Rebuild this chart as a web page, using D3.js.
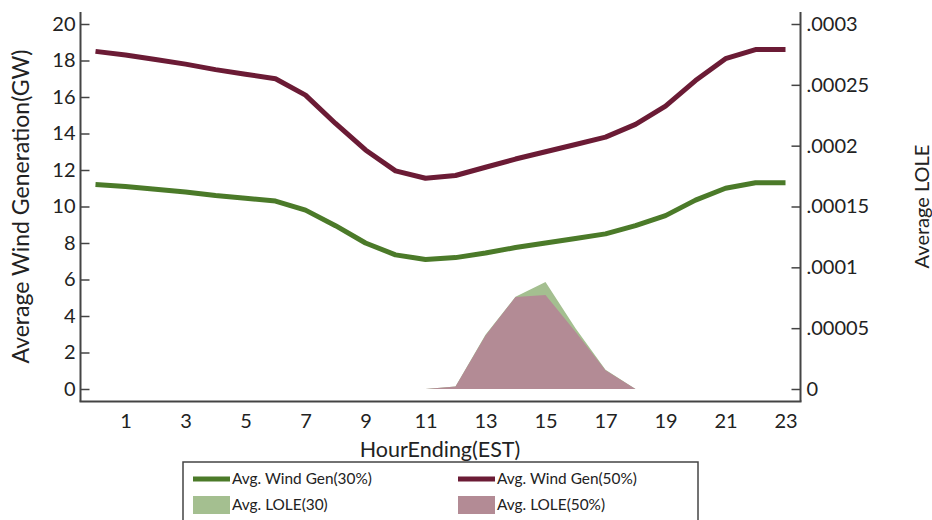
<!DOCTYPE html>
<html><head><meta charset="utf-8">
<script src="https://cdn.jsdelivr.net/npm/d3@7"></script>
<style>
body{margin:0;background:#fff;}
svg{display:block;font-family:Lato, "Open Sans", sans-serif;}
</style></head>
<body><svg id="c" width="932" height="520"></svg>
<script>
const hours = d3.range(0, 24);
const wind30 = [11.2,11.1,10.95,10.8,10.6,10.45,10.3,9.8,8.95,8.0,7.35,7.1,7.2,7.45,7.75,8.0,8.25,8.5,8.95,9.5,10.35,11.0,11.3,11.3];
const wind50 = [18.5,18.3,18.05,17.8,17.5,17.25,17.0,16.1,14.55,13.1,11.95,11.55,11.7,12.15,12.6,13.0,13.4,13.8,14.5,15.5,16.9,18.1,18.6,18.6];
const loleHours = [11,12,13,14,15,16,17,18];
const lole30 = [0,0.000002,0.0000445,0.0000758,0.000088,0.000050,0.0000158,0];
const lole50 = [0,0.000002,0.0000440,0.0000756,0.0000772,0.000047,0.0000155,0];
const xTicks = [1,3,5,7,9,11,13,15,17,19,21,23];
const yLeftTicks = [0,2,4,6,8,10,12,14,16,18,20];
const yRightTicks = [0,0.00005,0.0001,0.00015,0.0002,0.00025,0.0003];
const yRightLabels = ["0",".00005",".0001",".00015",".0002",".00025",".0003"];
const legendItems = [
  {label:"Avg. Wind Gen(30%)", type:"line", color:"#4b7a29"},
  {label:"Avg. Wind Gen(50%)", type:"line", color:"#6b1b35"},
  {label:"Avg. LOLE(30)", type:"area", color:"#a4bf90"},
  {label:"Avg. LOLE(50%)", type:"area", color:"#b38b95"}
];

const svg = d3.select("#c");
const X0 = 80.5, X1 = 800.5, Ytop = 24, Ybot = 389, axisY = 401.5, lineTop = 12;
const x = d3.scaleLinear().domain([-0.5, 23.5]).range([X0, X1]);
const yL = d3.scaleLinear().domain([0, 20]).range([Ybot, Ytop]);
const yR = d3.scaleLinear().domain([0, 0.0003]).range([Ybot, Ytop]);

// areas (right axis)
const area = d3.area().x(d => x(d[0])).y0(yR(0)).y1(d => yR(d[1]));
svg.append("path").datum(loleHours.map((h,i)=>[h,lole30[i]]))
  .attr("d", area).attr("fill", legendItems[2].color);
svg.append("path").datum(loleHours.map((h,i)=>[h,lole50[i]]))
  .attr("d", area).attr("fill", legendItems[3].color);

// lines (left axis)
const line = d3.line().x(d => x(d[0])).y(d => yL(d[1]));
[[wind30, legendItems[0].color],[wind50, legendItems[1].color]].forEach(([vals,col])=>{
  svg.append("path").datum(hours.map((h,i)=>[h,vals[i]]))
    .attr("d", line).attr("fill","none").attr("stroke", col)
    .attr("stroke-width", 5).attr("stroke-linejoin","round");
});

const axisColor = "#444";
const gL = svg.append("g").attr("transform", `translate(${X0},0)`)
  .call(d3.axisLeft(yL).tickValues(yLeftTicks).tickSizeInner(-9).tickSizeOuter(0).tickPadding(5));
const gR = svg.append("g").attr("transform", `translate(${X1},0)`)
  .call(d3.axisRight(yR).tickValues(yRightTicks).tickFormat((d,i)=>yRightLabels[i]).tickSizeInner(-9).tickSizeOuter(0).tickPadding(6));
const gB = svg.append("g").attr("transform", `translate(0,${axisY})`)
  .call(d3.axisBottom(x).tickValues(xTicks).tickSize(0).tickPadding(12).tickFormat(d3.format("d")));
[gL,gR,gB].forEach(g=>{
  g.select(".domain").remove();
  g.selectAll("line").attr("stroke", axisColor).attr("stroke-width",1.5);
  g.selectAll("text").attr("font-size", 20).attr("fill","#222").attr("font-family","Lato, sans-serif");
});
svg.append("line").attr("x1",X0).attr("x2",X0).attr("y1",lineTop).attr("y2",axisY).attr("stroke",axisColor).attr("stroke-width",2);
svg.append("line").attr("x1",X1).attr("x2",X1).attr("y1",lineTop).attr("y2",axisY).attr("stroke",axisColor).attr("stroke-width",2);
svg.append("line").attr("x1",X0-1).attr("x2",X1+1).attr("y1",axisY).attr("y2",axisY).attr("stroke",axisColor).attr("stroke-width",2);

// axis titles
svg.append("text").attr("transform",`translate(29,${(Ytop+Ybot)/2}) rotate(-90)`)
  .attr("text-anchor","middle").attr("font-size",23).attr("fill","#222").text("Average Wind Generation(GW)");
svg.append("text").attr("transform",`translate(929,${(Ytop+Ybot)/2}) rotate(-90)`)
  .attr("text-anchor","middle").attr("font-size",20).attr("fill","#222").text("Average LOLE");
svg.append("text").attr("x",440).attr("y",457).attr("text-anchor","middle")
  .attr("font-size",21.5).attr("fill","#222").text("HourEnding(EST)");

// legend
svg.append("rect").attr("x",183).attr("y",462).attr("width",515).attr("height",70)
  .attr("fill","#fff").attr("stroke","#444").attr("stroke-width",1.5);
const legPos = [[193,479],[458,479],[193,505],[458,505]];
legendItems.forEach((it,i)=>{
  const [lx,ly] = legPos[i];
  if(it.type==="line"){
    svg.append("line").attr("x1",lx).attr("x2",lx+37).attr("y1",ly).attr("y2",ly)
      .attr("stroke",it.color).attr("stroke-width",5);
  } else {
    svg.append("rect").attr("x",lx).attr("y",ly-9).attr("width",37).attr("height",18).attr("fill",it.color);
  }
  svg.append("text").attr("x",lx+39).attr("y",ly+5).attr("font-size",15.4).attr("fill","#222").text(it.label);
});
</script></body></html>
